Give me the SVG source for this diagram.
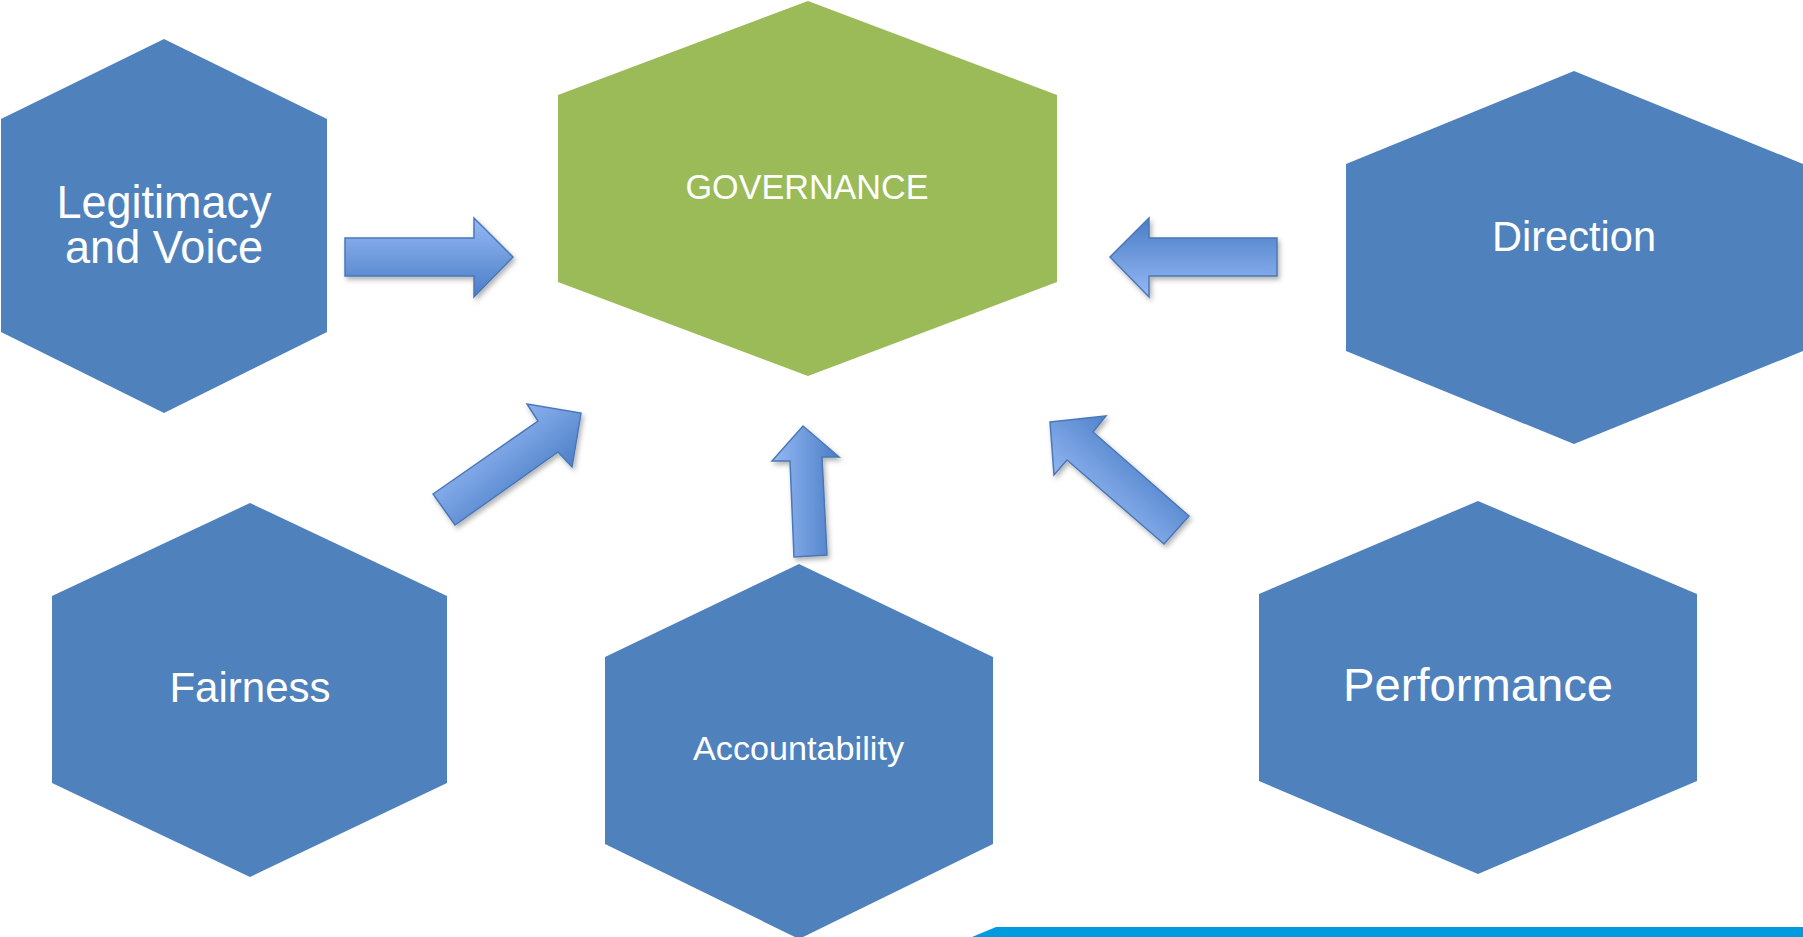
<svg xmlns="http://www.w3.org/2000/svg" width="1803" height="937" viewBox="0 0 1803 937">
<style>
.hex{fill:#4F81BD}
.gov{fill:#9BBB59}
.lbl{font-family:"Liberation Sans",Arial,sans-serif;fill:#FFFFFF;text-anchor:middle}
.arr{stroke:#4A78B8;stroke-width:1.5;stroke-linejoin:miter;filter:url(#sh)}
</style>
<defs>
<filter id="sh" x="-20%" y="-20%" width="150%" height="150%">
<feDropShadow dx="2" dy="3" stdDeviation="2.5" flood-color="#000" flood-opacity="0.3"/>
</filter>
<linearGradient id="gR" x1="0" y1="0" x2="0" y2="1"><stop offset="0" stop-color="#95B9F4"/><stop offset="1" stop-color="#4A7DC6"/></linearGradient>
<linearGradient id="gL" x1="0" y1="0" x2="0" y2="1"><stop offset="0" stop-color="#4A7DC6"/><stop offset="1" stop-color="#95B9F4"/></linearGradient>
<linearGradient id="gU" x1="0" y1="0" x2="1" y2="0"><stop offset="0" stop-color="#95B9F4"/><stop offset="1" stop-color="#4A7DC6"/></linearGradient>
<linearGradient id="gUR" x1="0.25" y1="0.25" x2="0.75" y2="0.75"><stop offset="0" stop-color="#95B9F4"/><stop offset="1" stop-color="#4A7DC6"/></linearGradient>
<linearGradient id="gUL" x1="0.25" y1="0.75" x2="0.75" y2="0.25"><stop offset="0" stop-color="#95B9F4"/><stop offset="1" stop-color="#4A7DC6"/></linearGradient>
</defs>
<rect width="1803" height="937" fill="#FFFFFF"/>

<g id="governance">
<polygon class="gov" points="808,1 1057,95 1057,282 808,376 558,282 558,95"/>
<text class="lbl" x="807" y="199" font-size="35" textLength="243" lengthAdjust="spacingAndGlyphs">GOVERNANCE</text>
</g>
<g id="legitimacy">
<polygon class="hex" points="164,39 327,119 327,332 164,413 1,332 1,119"/>
<text class="lbl" font-size="46"><tspan x="164" y="218" textLength="215" lengthAdjust="spacingAndGlyphs">Legitimacy</tspan><tspan x="164" y="263" textLength="198" lengthAdjust="spacingAndGlyphs">and Voice</tspan></text>
</g>
<g id="direction">
<polygon class="hex" points="1574,71 1803,164 1803,351 1574,444 1346,351 1346,164"/>
<text class="lbl" x="1574" y="251" font-size="43" textLength="164" lengthAdjust="spacingAndGlyphs">Direction</text>
</g>
<g id="fairness">
<polygon class="hex" points="250,503 447,596 447,783 250,877 52,783 52,596"/>
<text class="lbl" x="250" y="702" font-size="42">Fairness</text>
</g>
<g id="accountability">
<polygon class="hex" points="799,564 993,657 993,844 799,939 605,844 605,657"/>
<text class="lbl" x="798.5" y="760" font-size="34" textLength="211" lengthAdjust="spacingAndGlyphs">Accountability</text>
</g>
<g id="performance">
<polygon class="hex" points="1478,501 1697,594 1697,781 1478,874 1259,781 1259,594"/>
<text class="lbl" x="1478" y="701" font-size="47" textLength="270" lengthAdjust="spacingAndGlyphs">Performance</text>
</g>

<g id="connectors">
<polygon class="arr" fill="url(#gR)" points="345,238 474,238 474,218 513,257 474,297 474,276 345,276"/>
<polygon class="arr" fill="url(#gL)" points="1277,238 1149,238 1149,218 1110,257 1149,297 1149,276 1277,276"/>
<polygon class="arr" fill="url(#gUR)" points="433,494 538,421 527,404 581,413 572,467 558,452 455,525"/>
<polygon class="arr" fill="url(#gU)" points="803,426 839,457 822,457 827,555 794,557 790,461 772,461"/>
<polygon class="arr" fill="url(#gUL)" points="1050,422 1106,416 1093,432 1189,516 1164,544 1067,460 1054,475"/>
</g>

<polygon fill="#009ADE" points="972,937 996,927 1803,927 1803,937"/>
</svg>
